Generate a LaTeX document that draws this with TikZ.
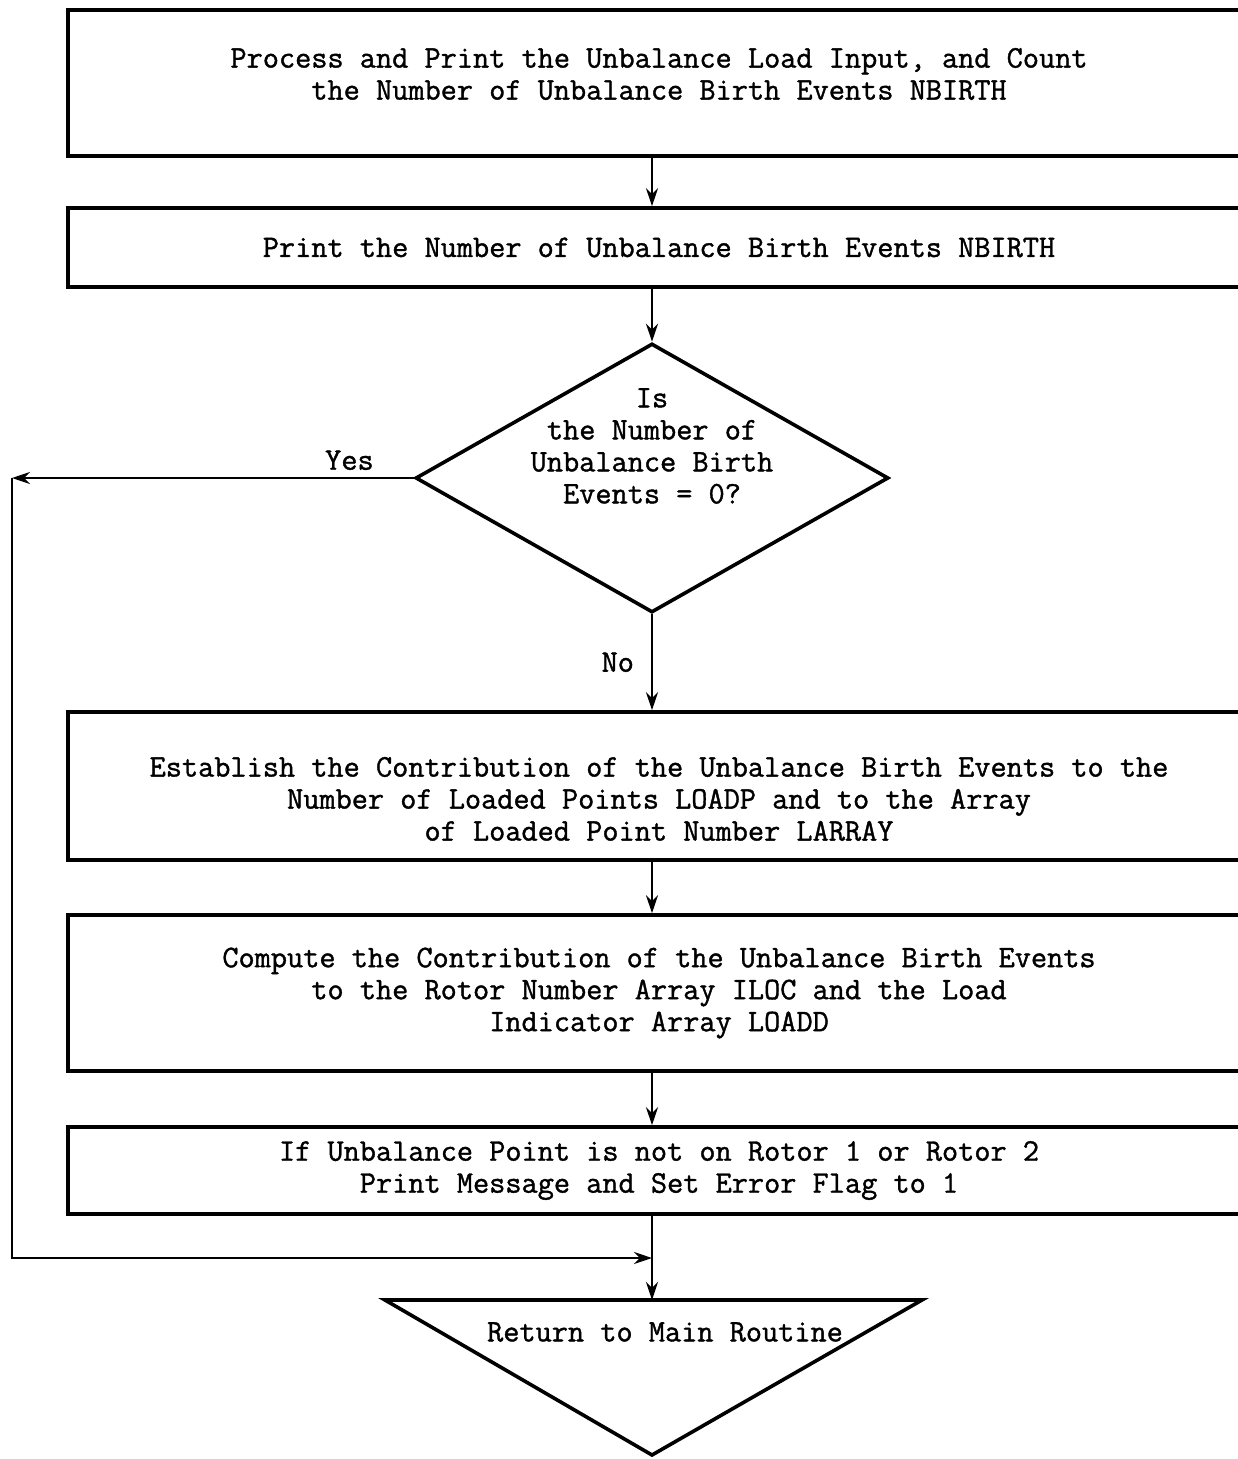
\documentclass[tikz,border=0pt]{standalone}
\usepackage{fontspec}
\setmonofont{lmmono12-regular.otf}[FakeBold=1.2]
\usepackage{tikz}
\usetikzlibrary{arrows.meta, positioning, shapes.geometric}
\tikzstyle{arrow} = [line width=1.4pt,->,>={Stealth[length=9pt,width=6pt]}]

\begin{document}
\begin{tikzpicture}[x=0.5pt, y=-0.5pt, on grid, font=\ttfamily\fontsize{15.7}{16}\selectfont]
        \tikzstyle{block}=[
            rectangle,
            draw,
            line width=1.8pt,
            minimum width=591pt, % runs off the right edge
            inner sep=0pt,
            align=center
        ]
        \tikzstyle{decision}=[
            diamond,
            draw,
            line width=1.8pt,
            minimum width=236.5pt,
            minimum height=134.5pt,
            inner sep=0pt
        ]

        \useasboundingbox (0,0) rectangle (1237,1459);

        \node[block, minimum height=73pt,
            label={[align=center, yshift=4.5pt]center:Process and Print the Unbalance Load Input, and Count\\the Number of Unbalance Birth Events NBIRTH}] (load) at (659,83) {};
        \node[block, minimum height=39.5pt] (count) [below=82.25pt of load] {Print the Number of Unbalance Birth Events NBIRTH};
        \node[decision] (zero) [below=115.25pt of count, xshift=-3.5pt] {};
        \node[align=center] (zerotext) [above=16pt of zero] {Is\\the Number of\\Unbalance Birth\\Events = 0?};
        \node[block, minimum height=74pt,
            label={[align=center, yshift=-6.5pt]center:Establish the Contribution of the Unbalance Birth Events to the\\Number of Loaded Points LOADP and to the Array\\of Loaded Point Number LARRAY}] (contrib) [below=154pt of zero, xshift=3.5pt] {};
        \node[block, minimum height=78pt] (iloc) [below=103.5pt of contrib] {Compute the Contribution of the Unbalance Birth Events\\to the Rotor Number Array ILOC and the Load\\Indicator Array LOADD};
        \node[block, minimum height=43.5pt] (check) [below=88.75pt of iloc] {If Unbalance Point is not on Rotor 1 or Rotor 2\\Print Message and Set Error Flag to 1};

        % return triangle
        \draw[line width=1.8pt] (385,1300) -- (922,1300) -- (652,1455) -- cycle;
        \coordinate (rettop) at (652,1300);
        \node (ret) at (665,1332) {Return to Main Routine};

        \coordinate (yesend) at (12,478);
        \coordinate (merge) at (652,1258);

        \draw[arrow] (load.south -| zero) -- (count.north -| zero);
        \draw[arrow] (count.south -| zero) -- (zero.north);
        \draw[arrow] (zero.south) -- node[left, xshift=-5pt] {No} (contrib.north -| zero);
        \draw[arrow] (contrib.south -| zero) -- (iloc.north -| zero);
        \draw[arrow] (iloc.south -| zero) -- (check.north -| zero);
        \draw[arrow] (check.south -| zero) -- (rettop);

        \draw[arrow] (zero.west) -- node[pos=0.16, above] {Yes} (yesend);
        \draw[arrow] (yesend) |- (merge);

    \end{tikzpicture}
\end{document}
